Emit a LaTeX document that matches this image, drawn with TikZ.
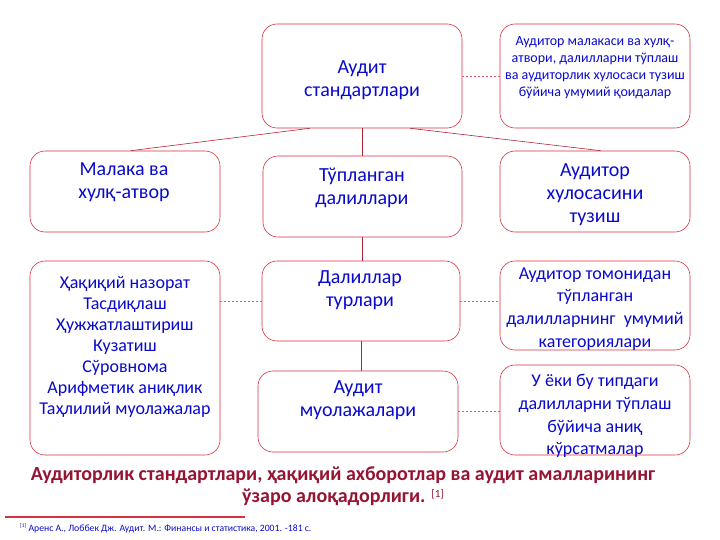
\documentclass[tikz,border=0pt]{standalone}
\usepackage{fontspec}
\setmainfont{Carlito}
\usetikzlibrary{calc}
\definecolor{txtblue}{RGB}{10,10,205}
\definecolor{boxred}{RGB}{215,50,65}
\definecolor{conred}{RGB}{175,35,55}
\definecolor{dashred}{RGB}{225,90,110}
\definecolor{capred}{RGB}{150,20,50}
\tikzset{
  box/.style={draw=boxred, line width=0.6pt, rounded corners=15pt, fill=white, inner sep=0pt},
  txt/.style={text=txtblue, align=center, inner sep=0pt},
  big/.style={font=\fontsize{20}{23}\selectfont},
  mid/.style={font=\fontsize{18}{22.7}\selectfont},
  midtight/.style={font=\fontsize{18}{21}\selectfont},
  small/.style={font=\fontsize{14}{17}\selectfont},
  con/.style={draw=conred, line width=0.6pt},
  dcon/.style={draw=dashred, line width=0.6pt, dash pattern=on 2pt off 2pt}
}
\begin{document}
\begin{tikzpicture}[x=1pt,y=-1pt]
\useasboundingbox (0,0) rectangle (720,540);
% boxes
\node[box, minimum width=200pt, minimum height=104pt] (top) at (362,76) {};
\node[box, minimum width=190pt, minimum height=104pt] (topr) at (595,76) {};
\node[box, minimum width=190pt, minimum height=81pt] (mal) at (125,191.5) {};
\node[box, minimum width=199pt, minimum height=81pt] (tup) at (362.5,196.5) {};
\node[box, minimum width=190pt, minimum height=81pt] (xul) at (595,191.5) {};
\node[box, minimum width=190pt, minimum height=194pt] (haq) at (125,358) {};
\node[box, minimum width=198pt, minimum height=80pt] (dal) at (361,301) {};
\node[box, minimum width=190pt, minimum height=89pt] (tom) at (595,305.5) {};
\node[box, minimum width=200pt, minimum height=81pt] (muo) at (358,411.5) {};
\node[box, minimum width=190pt, minimum height=90pt] (uek) at (595,410) {};
% texts
\node[txt, big] (ttop) at (362,80) {Аудит\\стандартлари};
\node[txt, small] (ttopr) at (595,68) {Аудитор малакаси ва хулқ-\\атвори, далилларни тўплаш\\ва аудиторлик хулосаси тузиш\\бўйича умумий қоидалар};
\node[txt, big] (tmal) at (124,182) {Малака ва\\хулқ-атвор};
\node[txt, big] (ttup) at (362,188) {Тўпланган\\далиллари};
\node[txt, big] (txul) at (595,195) {Аудитор\\хулосасини\\тузиш};
\node[txt, midtight] (thaq) at (125,347) {Ҳақиқий назорат\\Тасдиқлаш\\Ҳужжатлаштириш\\Кузатиш\\Сўровнома\\Арифметик аниқлик\\Таҳлилий муолажалар};
\node[txt, big] (tdal) at (360,290) {Далиллар\\турлари};
\node[txt, mid] (ttom) at (595,309) {Аудитор томонидан\\тўпланган\\далилларнинг\ \ умумий\\категориялари};
\node[txt, big] (tmuo) at (358,400) {Аудит\\муолажалари};
\node[txt, mid] (tuek) at (595,416) {У ёки бу типдаги\\далилларни тўплаш\\бўйича аниқ\\кўрсатмалар};
% connectors
\coordinate (c1) at ($(top.south west)!0.24!(top.south east)$);
\coordinate (c2) at ($(mal.north west)!0.53!(mal.north east)$);
\coordinate (c3) at ($(top.south west)!0.74!(top.south east)$);
\coordinate (c4) at ($(xul.north west)!0.53!(xul.north east)$);
\draw[con] (c1) -- (c2);
\draw[con] (c3) -- (c4);
\draw[con] (top.south -| tup.north) -- (tup.north);
\draw[con] (tup.south) -- (tup.south |- dal.north);
\draw[con] (dal.south) -- (dal.south |- muo.north);
\draw[dcon] (top.east) -- (topr.west);
\draw[dcon] (haq.east |- dal.west) -- (dal.west);
\draw[dcon] (dal.east) -- (dal.east -| tom.west);
\draw[dcon] (muo.east) -- (muo.east -| uek.west);
% caption
\node[text=capred, align=center, inner sep=0pt, font=\fontsize{20}{21.5}\selectfont\bfseries] (cap) at (343,486)
  {Аудиторлик стандартлари, ҳақиқий ахборотлар ва аудит амалларининг\\ўзаро алоқадорлиги. {\mdseries\fontsize{11}{11}\selectfont\raisebox{0.45em}{[1]}}};
% footnote
\coordinate (fl1) at (5,517);
\coordinate (fl2) at (245,517);
\draw[draw=boxred, line width=1.1pt] (fl1) -- (fl2);
\node[anchor=west, text=txtblue, inner sep=0pt, font=\fontsize{9.7}{11}\selectfont] (foot) at (20,528)
  {\raisebox{0.4em}{\fontsize{5.5}{5.5}\selectfont[1]}\ Аренс А., Лоббек Дж. Аудит. М.: Финансы и статистика, 2001. -181 с.};
\end{tikzpicture}
\end{document}
